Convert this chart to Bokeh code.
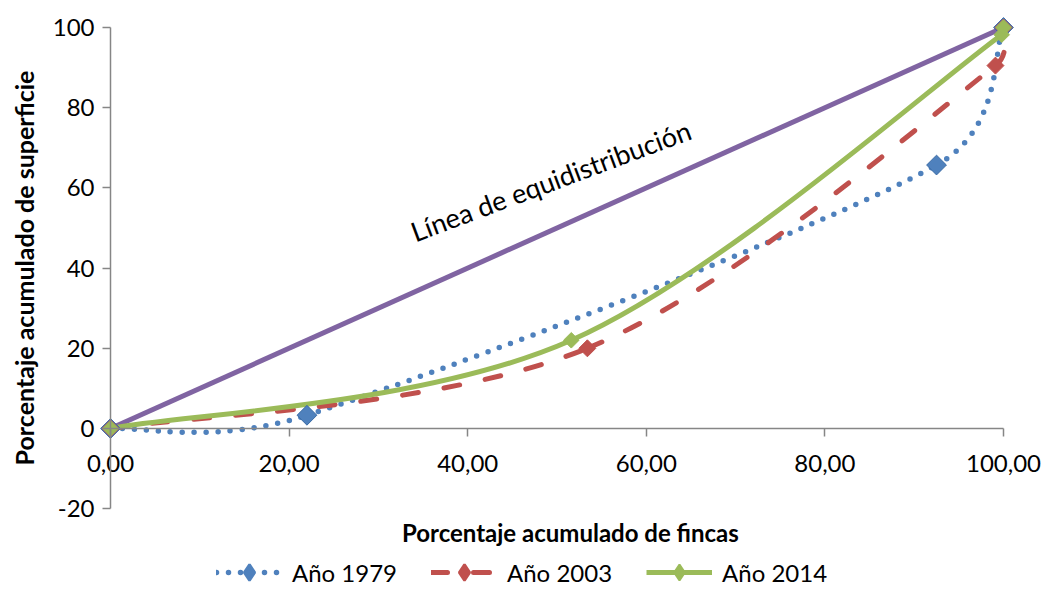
import numpy as np
from bokeh.plotting import figure
from bokeh.models import Range1d, Label, Legend, LegendItem, FixedTicker
from bokeh.embed import file_html
from bokeh.resources import INLINE

# ---- data ----
x_1979 = [0.0, 22.0, 92.5, 100.0]
y_1979 = [0.0, 3.3, 65.7, 100.0]
x_2003 = [0.0, 53.4, 99.1, 100.0]
y_2003 = [0.0, 20.0, 90.5, 100.0]
x_2014 = [0.0, 51.6, 99.8, 100.0]
y_2014 = [0.0, 22.0, 98.2, 100.0]
x_equi = [0.0, 100.0]
y_equi = [0.0, 100.0]
series_labels = ["Año 1979", "Año 2003", "Año 2014"]
x_ticks = [0, 20, 40, 60, 80, 100]
x_tick_labels = ["0,00", "20,00", "40,00", "60,00", "80,00", "100,00"]
y_ticks = [-20, 0, 20, 40, 60, 80, 100]
y_tick_labels = ["-20", "0", "20", "40", "60", "80", "100"]
x_title = "Porcentaje acumulado de fincas"
y_title = "Porcentaje acumulado de superficie"
note_text = "Línea de equidistribución"

FONT = "Lato"
W, H = 1043, 592
# plot area: x 0..100 spans 893 px starting 110 px from the left edge;
# y 100..-20 spans 482 px starting 27 px from the top
PXU, PYU = 8.93, 4.01
X0 = -110 / PXU
X1 = X0 + W / PXU
Y1 = 100 + 27 / PYU
Y0 = Y1 - H / PYU
SX, SY = PXU, PYU


def smooth_controls(xs, ys):
    """Excel-like smoothed-line Bezier control points, computed in screen scale."""
    P = np.column_stack([np.asarray(xs) * SX, np.asarray(ys) * SY])
    n = len(P)
    out = {k: [] for k in ("x0", "y0", "x1", "y1", "cx0", "cy0", "cx1", "cy1")}
    for i in range(n - 1):
        p0 = P[i - 1] if i > 0 else P[i]
        p1, p2 = P[i], P[i + 1]
        p3 = P[i + 2] if i + 2 < n else P[i + 1]
        half = np.linalg.norm(p2 - p1) / 2
        t1 = (p2 - p0) / 6
        t2 = (p3 - p1) / 6
        if np.linalg.norm(t1) > half:
            t1 = t1 * half / np.linalg.norm(t1)
        if np.linalg.norm(t2) > half:
            t2 = t2 * half / np.linalg.norm(t2)
        c1, c2 = p1 + t1, p2 - t2
        out["x0"].append(p1[0] / SX); out["y0"].append(p1[1] / SY)
        out["x1"].append(p2[0] / SX); out["y1"].append(p2[1] / SY)
        out["cx0"].append(c1[0] / SX); out["cy0"].append(c1[1] / SY)
        out["cx1"].append(c2[0] / SX); out["cy1"].append(c2[1] / SY)
    return out


p = figure(frame_width=W, frame_height=H,
           x_range=Range1d(X0, X1), y_range=Range1d(Y0, Y1),
           output_backend="svg", toolbar_location=None,
           min_border_left=0, min_border_right=0, min_border_top=0, min_border_bottom=0,
           background_fill_color="white", border_fill_color="white")
p.outline_line_color = None
p.xgrid.visible = False
p.ygrid.visible = False

AX = "#868686"
for ax in (p.xaxis[0], p.yaxis[0]):
    ax.axis_line_color = AX
    ax.axis_line_width = 1.5
    ax.major_tick_line_color = AX
    ax.major_tick_line_width = 1.5
    ax.major_tick_in = 0
    ax.major_tick_out = 8
    ax.minor_tick_line_color = None
    ax.major_label_text_font = FONT
    ax.major_label_text_font_size = "24px"
    ax.major_label_text_color = "black"

p.xaxis.fixed_location = 0
p.xaxis.bounds = (0, 100)
p.xaxis.ticker = FixedTicker(ticks=x_ticks)
p.xaxis.major_label_overrides = {t: l for t, l in zip(x_ticks, x_tick_labels)}
p.xaxis.major_label_standoff = 18

p.yaxis.fixed_location = 0
p.yaxis.bounds = (-20, 100)
p.yaxis.ticker = FixedTicker(ticks=y_ticks)
p.yaxis.major_label_overrides = {t: l for t, l in zip(y_ticks, y_tick_labels)}
p.yaxis.major_label_standoff = 8
p.yaxis.axis_label = y_title
p.yaxis.axis_label_text_font = FONT
p.yaxis.axis_label_text_font_style = "bold"
p.yaxis.axis_label_text_font_size = "25px"
p.yaxis.axis_label_text_color = "black"
p.yaxis.axis_label_standoff = 11

# equidistribution line
p.line(x_equi, y_equi, line_color="#8064A2", line_width=5)

BLUE, RED, GREEN = "#4F81BD", "#C0504D", "#9BBB59"
DOT, DASH = "0 12", "16 26"

b = smooth_controls(x_1979, y_1979)
p.bezier(**b, line_color=BLUE, line_width=5.5, line_dash=DOT, line_cap="round")
b = smooth_controls(x_2003, y_2003)
p.bezier(**b, line_color=RED, line_width=5, line_dash=DASH, line_cap="round")
b = smooth_controls(x_2014, y_2014)
p.bezier(**b, line_color=GREEN, line_width=5, line_cap="round")

p.scatter(x_1979, y_1979, marker="square", angle=np.pi / 4, size=14,
          fill_color=BLUE, line_color="#3A6BA5", line_width=1)
p.scatter(x_2003, y_2003, marker="square", angle=np.pi / 4, size=12,
          fill_color=RED, line_color=RED, line_width=1)
p.scatter(x_2014, y_2014, marker="square", angle=np.pi / 4, size=11,
          fill_color=GREEN, line_color=GREEN, line_width=1)

p.add_layout(Label(x=49.3, y=61.8, text=note_text, angle=20.5, angle_units="deg",
                   text_align="center", text_baseline="middle", text_font=FONT,
                   text_font_size="27px", text_color="black"))

p.add_layout(Label(x=51.5, y=-25.9, text=x_title,
                   text_align="center", text_baseline="middle", text_font=FONT,
                   text_font_style="bold", text_font_size="24px", text_color="black"))

# legend proxies (a single NaN point: nothing drawn in the plot area)
l1 = p.line([np.nan], [np.nan], line_color=BLUE, line_width=5.5, line_dash=DOT, line_cap="round")
l2 = p.line([np.nan], [np.nan], line_color=RED, line_width=5, line_dash=DASH, line_cap="round")
l3 = p.line([np.nan], [np.nan], line_color=GREEN, line_width=5)
d1 = p.scatter([np.nan], [np.nan], marker="diamond", fill_color=BLUE, line_color=BLUE, line_width=2.5)
d2 = p.scatter([np.nan], [np.nan], marker="diamond", fill_color=RED, line_color=RED, line_width=2.5)
d3 = p.scatter([np.nan], [np.nan], marker="diamond", fill_color=GREEN, line_color=GREEN, line_width=2)

legend = Legend(items=[LegendItem(label=series_labels[0], renderers=[l1, d1], index=0),
                       LegendItem(label=series_labels[1], renderers=[l2, d2], index=0),
                       LegendItem(label=series_labels[2], renderers=[l3, d3], index=0)],
                orientation="horizontal", location=(216, 0),
                label_text_font=FONT, label_text_font_size="24px", label_text_color="black",
                glyph_width=66, glyph_height=40, label_standoff=10, spacing=34,
                border_line_color=None, background_fill_alpha=0, padding=0, margin=0)
p.add_layout(legend, "center")

open("out.html", "w").write(file_html(p, INLINE))
